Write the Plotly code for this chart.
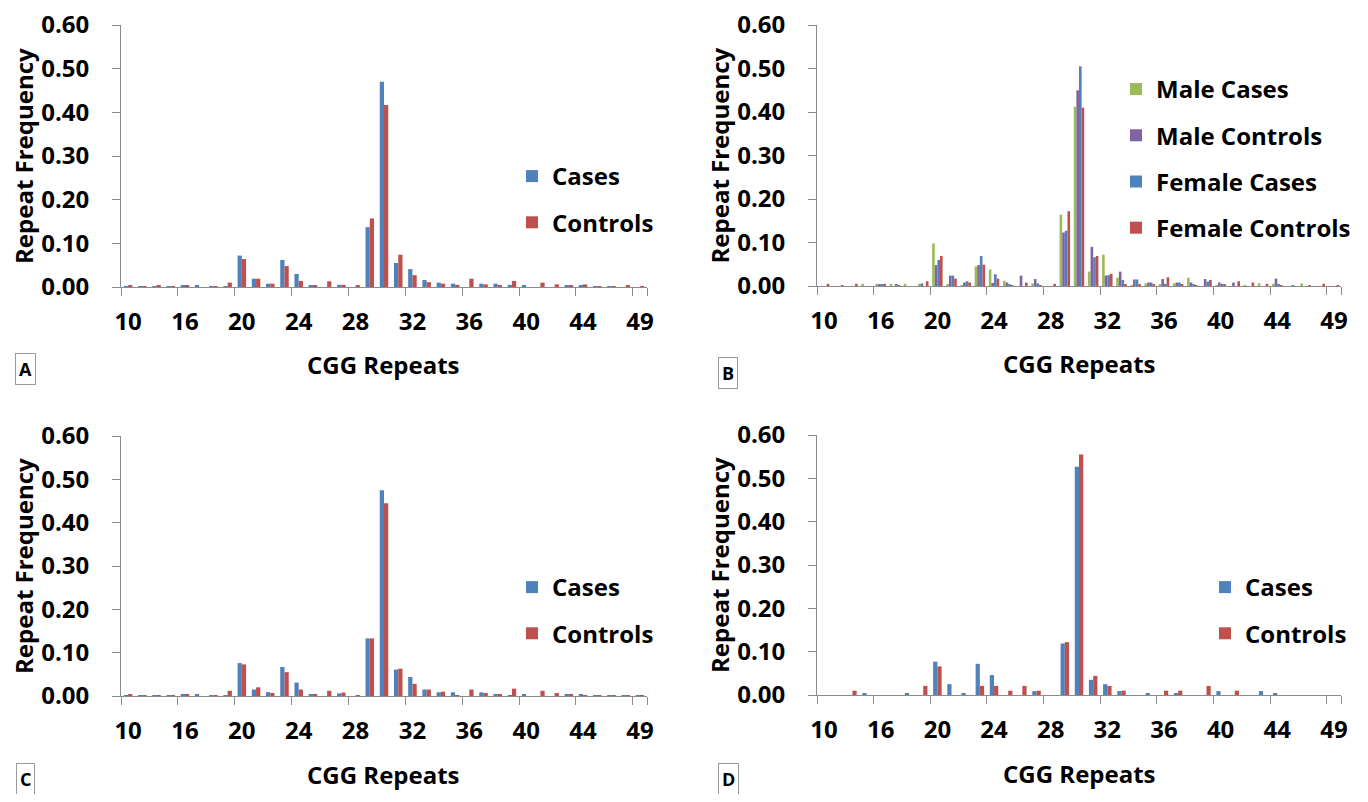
import plotly.graph_objects as go

# ---------------- data ----------------
categories = ["10", "12", "14", "15"] + [str(v) for v in range(16, 48)] + ["49"]
tick_labels = ["10", "16", "20", "24", "28", "32", "36", "40", "44", "49"]

a_cases = [0.001, 0.001, 0.001, 0.001, 0.004, 0.004, 0.001, 0.001, 0.072, 0.019,
           0.0076, 0.062, 0.030, 0.004, 0.000, 0.005, 0.000, 0.137, 0.470, 0.055,
           0.041, 0.016, 0.010, 0.0076, 0.000, 0.0076, 0.0076, 0.005, 0.003, 0.000,
           0.000, 0.004, 0.003, 0.001, 0.001, 0.000, 0.000]
a_controls = [0.0045, 0.001, 0.004, 0.001, 0.004, 0.000, 0.001, 0.010, 0.064, 0.019,
              0.0076, 0.048, 0.014, 0.004, 0.013, 0.005, 0.0045, 0.157, 0.417, 0.074,
              0.027, 0.011, 0.0076, 0.005, 0.019, 0.006, 0.004, 0.014, 0.000, 0.010,
              0.006, 0.004, 0.006, 0.001, 0.001, 0.004, 0.001]

b_male_cases = [0, 0, 0, 0.005, 0.005, 0.005, 0.005, 0.005, 0.098, 0.003,
                0.002, 0.045, 0.038, 0.012, 0, 0.006, 0, 0.164, 0.412, 0.033,
                0.072, 0.019, 0.002, 0.006, 0.003, 0.006, 0.019, 0, 0.002, 0,
                0.002, 0.006, 0.005, 0, 0.006, 0, 0]
b_male_controls = [0, 0, 0, 0, 0.003, 0, 0, 0.006, 0.048, 0.024,
                   0.008, 0.048, 0.007, 0.008, 0.024, 0.016, 0, 0.123, 0.450, 0.090,
                   0.024, 0.033, 0.015, 0.008, 0.016, 0.008, 0.008, 0.016, 0.008, 0.008,
                   0, 0, 0.017, 0, 0, 0, 0]
b_female_cases = [0, 0, 0, 0, 0.003, 0.003, 0, 0, 0.060, 0.024,
                  0.011, 0.069, 0.027, 0.003, 0, 0.006, 0, 0.127, 0.505, 0.066,
                  0.025, 0.014, 0.015, 0.008, 0.005, 0.008, 0.003, 0.010, 0.005, 0,
                  0, 0, 0.003, 0.002, 0, 0, 0]
b_female_controls = [0.005, 0.002, 0.005, 0, 0.005, 0.002, 0, 0.011, 0.069, 0.017,
                     0.008, 0.049, 0.017, 0.002, 0.008, 0.002, 0.005, 0.172, 0.410, 0.069,
                     0.028, 0.004, 0.004, 0.003, 0.020, 0.003, 0.002, 0.014, 0.003, 0.011,
                     0.008, 0.005, 0.002, 0, 0.002, 0.005, 0.002]

c_cases = [0.001, 0.001, 0.001, 0.001, 0.0046, 0.004, 0.001, 0.001, 0.076, 0.015,
           0.009, 0.067, 0.031, 0.004, 0, 0.006, 0, 0.133, 0.475, 0.061,
           0.044, 0.015, 0.0085, 0.0085, 0, 0.0085, 0.004, 0.001, 0.004, 0,
           0, 0.004, 0.004, 0.001, 0.001, 0.001, 0.001]
c_controls = [0.0046, 0.001, 0.001, 0.001, 0.0046, 0, 0.001, 0.012, 0.073, 0.020,
              0.007, 0.055, 0.015, 0.004, 0.012, 0.008, 0.001, 0.133, 0.445, 0.063,
              0.028, 0.015, 0.010, 0.001, 0.015, 0.007, 0.004, 0.017, 0, 0.012,
              0.007, 0.004, 0.001, 0.001, 0.002, 0.002, 0.002]

d_cases = [0, 0, 0, 0.004, 0, 0, 0.004, 0, 0.077, 0.025,
           0.004, 0.072, 0.046, 0, 0, 0.009, 0, 0.119, 0.527, 0.035,
           0.025, 0.009, 0, 0.004, 0, 0.004, 0, 0, 0.009, 0,
           0, 0.009, 0.004, 0, 0, 0, 0]
d_controls = [0, 0, 0.010, 0, 0, 0, 0, 0.021, 0.066, 0,
              0, 0.021, 0.021, 0.010, 0.021, 0.010, 0, 0.122, 0.555, 0.044,
              0.021, 0.010, 0, 0, 0.010, 0.010, 0, 0.021, 0, 0.010,
              0, 0, 0, 0, 0, 0, 0]

BLUE, RED, GREEN, PURPLE = "#4F81BD", "#C0504D", "#9BBB59", "#8064A2"
OFF = 8                      # page body margin
W, H = 1368 - 2 * OFF, 802 - 2 * OFF
FONT = "Open Sans"
AXIS_GRAY = "#8C8C8C"

fig = go.Figure()

def add_bar(name, values, color, xa, ya, legend, width, offset):
    fig.add_trace(go.Bar(
        x=categories, y=values, name=name, marker=dict(color=color, line=dict(width=0)),
        xaxis=xa, yaxis=ya, legend=legend, legendgroup=legend + name,
        width=width, offset=offset, hoverinfo="x+y+name"))

# Panel A
add_bar("Cases", a_cases, BLUE, "x", "y", "legend", 0.3, -0.3)
add_bar("Controls", a_controls, RED, "x", "y", "legend", 0.3, 0.0)
# Panel B
bw = 0.185
add_bar("Male Cases", b_male_cases, GREEN, "x2", "y2", "legend2", bw, -2 * bw)
add_bar("Male Controls", b_male_controls, PURPLE, "x2", "y2", "legend2", bw, -bw)
add_bar("Female Cases", b_female_cases, BLUE, "x2", "y2", "legend2", bw, 0.0)
add_bar("Female Controls", b_female_controls, RED, "x2", "y2", "legend2", bw, bw)
# Panel C
add_bar("Cases", c_cases, BLUE, "x3", "y3", "legend3", 0.3, -0.3)
add_bar("Controls", c_controls, RED, "x3", "y3", "legend3", 0.3, 0.0)
# Panel D
add_bar("Cases", d_cases, BLUE, "x4", "y4", "legend4", 0.3, -0.3)
add_bar("Controls", d_controls, RED, "x4", "y4", "legend4", 0.3, 0.0)

# page-pixel -> paper fraction
def px_x(v):
    return (v - OFF) / W

def px_y(v):
    return 1 - (v - OFF) / H

# plot boxes in page pixels: (left, right, top(0.60), bottom(0.00))
boxes = {
    "": (121, 647, 25, 287),
    "2": (817, 1341, 25, 286),
    "3": (121, 647, 436, 696),
    "4": (817, 1341, 435, 695),
}

tickfont = dict(family=FONT, size=24, color="black", weight="bold")
layout = dict(
    template="none",
    width=W, height=H, margin=dict(l=0, r=0, t=0, b=0, autoexpand=False),
    paper_bgcolor="white", plot_bgcolor="white",
    barmode="group", showlegend=True,
    font=dict(family=FONT, color="black"),
)

for k, (l, r, t, b) in boxes.items():
    layout["xaxis" + k] = dict(
        domain=[px_x(l), px_x(r)], anchor="y" + k, automargin=False,
        type="category", categoryorder="array", categoryarray=categories,
        range=[-0.5, len(categories) - 0.5],
        tickmode="array", tickvals=tick_labels, ticktext=tick_labels, tickangle=0,
        tickson="boundaries", ticks="outside", ticklen=8, tickwidth=1, tickcolor=AXIS_GRAY,
        showline=True, linecolor=AXIS_GRAY, linewidth=1, showgrid=False, zeroline=False,
        tickfont=tickfont, ticklabelstandoff=13, ticklabeloverflow="allow", fixedrange=True,
    )
    layout["yaxis" + k] = dict(
        domain=[px_y(b), px_y(t)], anchor="x" + k, automargin=False,
        range=[0, 0.6], tickmode="linear", tick0=0, dtick=0.1, tickformat=".2f",
        ticks="outside", ticklen=8, tickwidth=1, tickcolor=AXIS_GRAY,
        showline=True, linecolor=AXIS_GRAY, linewidth=1, showgrid=False, zeroline=False,
        tickfont=tickfont, ticklabelstandoff=18, ticklabeloverflow="allow", fixedrange=True,
    )

legend_font = dict(family=FONT, size=24, color="black", weight="bold")

def legend_at(xpx, ypx):
    return dict(x=px_x(xpx), y=px_y(ypx), xanchor="left", yanchor="top",
                font=legend_font, bgcolor="rgba(0,0,0,0)", borderwidth=0,
                tracegroupgap=12, traceorder="grouped", itemclick=False, itemdoubleclick=False)

layout["legend"] = legend_at(512, 154)
layout["legend2"] = legend_at(1116, 67)
layout["legend3"] = legend_at(512, 565)
layout["legend4"] = legend_at(1205, 565)

annotations = []
title_font = dict(family=FONT, size=24, color="black", weight="bold")
for k, (l, r, t, b) in boxes.items():
    annotations.append(dict(
        text="Repeat Frequency", textangle=-90, xref="paper", yref="paper",
        x=px_x(l - 98), y=px_y((t + b) / 2), xanchor="center", yanchor="middle",
        showarrow=False, font=title_font))
    annotations.append(dict(
        text="CGG Repeats", xref="paper", yref="paper",
        x=px_x((l + r) / 2), y=px_y(b + 78), xanchor="center", yanchor="middle",
        showarrow=False, font=title_font))

letters = [("A", 25, 369), ("B", 728, 373), ("C", 25, 779), ("D", 728, 779)]
for letter, cx, cy in letters:
    annotations.append(dict(
        text=letter, xref="paper", yref="paper", x=px_x(cx), y=px_y(cy),
        xanchor="center", yanchor="middle", showarrow=False,
        font=dict(family=FONT, size=18, color="black", weight="bold"),
        bordercolor="#9A9A9A", borderwidth=1, borderpad=3, bgcolor="white"))

layout["annotations"] = annotations
fig.update_layout(**layout)

fig.write_html("out.html", config={"displayModeBar": False})
